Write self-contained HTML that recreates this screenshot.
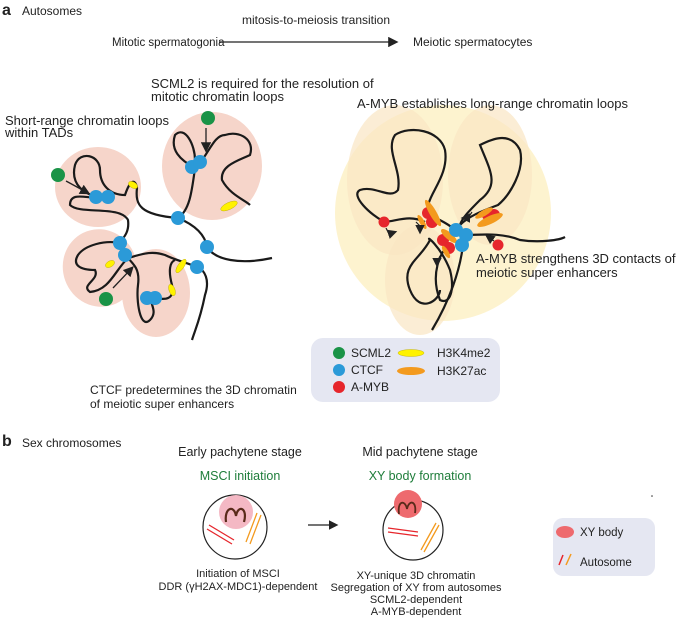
<!DOCTYPE html>
<html><head><meta charset="utf-8"><style>
body{margin:0;background:#fff}
svg{display:block}
text{font-family:"Liberation Sans",Arial,sans-serif;fill:#222}
</style></head><body>
<svg width="681" height="621" viewBox="0 0 681 621" xmlns="http://www.w3.org/2000/svg">
<defs><marker id="ah" markerWidth="8" markerHeight="8" refX="6" refY="4" orient="auto"><path d="M0,0 L8,4 L0,8 z" fill="#222"/></marker></defs>
<!-- part a header -->
<text x="2" y="15" font-size="16" font-weight="bold">a</text>
<text x="22" y="15" font-size="12">Autosomes</text>
<text x="316" y="24" font-size="12" text-anchor="middle">mitosis-to-meiosis transition</text>
<text x="112" y="46" font-size="11.5">Mitotic spermatogonia</text>
<text x="413" y="46" font-size="12">Meiotic spermatocytes</text>
<line x1="219" y1="42" x2="396" y2="42" stroke="#222" stroke-width="1.3" marker-end="url(#ah)"/>

<!-- left diagram -->
<g fill="#f6d5ca">
<ellipse cx="98" cy="187" rx="43" ry="40"/>
<ellipse cx="212" cy="166" rx="50" ry="54"/>
<ellipse cx="100" cy="268" rx="37" ry="39" transform="rotate(-20 100 268)"/>
<ellipse cx="156" cy="293" rx="34" ry="44"/>
</g>
<g fill="none" stroke="#1a1a1a" stroke-width="2.2">
<path d="M100,197 C85,195 70,185 75,165 C80,150 100,155 100,170 C100,185 110,195 125,195 C130,180 135,178 137,188 C135,205 140,215 178,218 C190,210 192,190 195,168 C180,160 170,150 175,135 C185,125 195,145 195,160"/>
<path d="M200,163 C210,150 215,135 225,135 C240,130 255,140 250,155 C240,160 220,165 222,180 C230,195 245,200 250,205 M178,218 C195,225 205,235 207,247 C215,260 240,265 272,258"/>
<path d="M100,197 C90,200 70,190 70,205 C80,215 120,205 128,220 C130,235 120,240 120,243"/>
<path d="M120,243 C105,240 85,245 78,255 C72,265 80,270 95,270 C100,280 80,285 90,292 C110,290 115,270 128,258 C140,255 150,250 165,255 C175,260 185,262 197,267 C205,270 210,280 205,295 C200,320 195,330 192,340"/>
<path d="M125,255 C135,265 140,270 138,285 C136,300 140,330 150,320 C160,310 145,300 155,298 C165,300 175,300 172,285 C168,270 170,262 175,260"/>
</g>
<g fill="#fff200" stroke="#b8a600" stroke-width="0.4">
<ellipse cx="133" cy="185" rx="5" ry="3" transform="rotate(30 133 185)"/>
<ellipse cx="229" cy="206" rx="9" ry="3.5" transform="rotate(-25 229 206)"/>
<ellipse cx="110" cy="264" rx="5" ry="3" transform="rotate(-30 110 264)"/>
<ellipse cx="181" cy="266" rx="8" ry="3" transform="rotate(-55 181 266)"/>
<ellipse cx="172" cy="290" rx="6" ry="3" transform="rotate(70 172 290)"/>
</g>
<g fill="#2b9ad8">
<circle cx="96" cy="197" r="7"/><circle cx="108" cy="197" r="7"/>
<circle cx="192" cy="167" r="7"/><circle cx="200" cy="162" r="7"/>
<circle cx="178" cy="218" r="7"/><circle cx="207" cy="247" r="7"/><circle cx="197" cy="267" r="7"/>
<circle cx="120" cy="243" r="7"/><circle cx="125" cy="255" r="7"/>
<circle cx="147" cy="298" r="7"/><circle cx="155" cy="298" r="7"/>
</g>
<g fill="#1a9347"><circle cx="58" cy="175" r="7"/><circle cx="208" cy="118" r="7"/><circle cx="106" cy="299" r="7"/></g>
<g stroke="#222" stroke-width="1.3" marker-end="url(#ah)">
<line x1="66" y1="181" x2="88" y2="193"/><line x1="206" y1="128" x2="206" y2="150"/><line x1="113" y1="288" x2="132" y2="268"/>
</g>
<text font-size="13"><tspan x="5" y="125">Short-range chromatin loops</tspan><tspan x="5" y="137">within TADs</tspan></text>
<text font-size="13"><tspan x="151" y="88">SCML2 is required for the resolution of</tspan><tspan x="151" y="101">mitotic chromatin loops</tspan></text>
<text font-size="12"><tspan x="90" y="394">CTCF predetermines the 3D chromatin</tspan><tspan x="90" y="408">of meiotic super enhancers</tspan></text>

<!-- right diagram -->
<circle cx="443" cy="213" r="108" fill="#fdf3cf"/>
<ellipse cx="395" cy="180" rx="48" ry="75" fill="#f9e6c3" opacity="0.7"/>
<ellipse cx="490" cy="175" rx="42" ry="70" fill="#f9e6c3" opacity="0.7"/>
<ellipse cx="420" cy="280" rx="35" ry="55" fill="#f9e6c3" opacity="0.7"/>
<g fill="none" stroke="#1a1a1a" stroke-width="2.2">
<path d="M385,222 C370,215 350,195 360,190 C375,185 390,200 398,190 C402,170 385,150 395,135 C410,125 440,130 445,150 C450,180 420,200 430,215 C440,220 450,225 455,230"/>
<path d="M385,222 C400,220 410,215 425,222"/>
<path d="M460,225 C470,215 485,210 498,205 C510,195 525,170 520,150 C510,130 490,140 480,145 C490,170 500,185 480,200 C470,210 462,218 460,225"/>
<path d="M465,235 C480,235 500,232 520,240 C540,243 560,240 565,237"/>
<path d="M450,245 C440,250 430,275 440,300 C450,305 455,290 450,270 C440,245 425,235 430,240 C420,260 400,265 410,290 C420,315 440,300 440,290"/>
<path d="M463,245 C460,270 450,300 432,330"/>
</g>
<g fill="#e6262c">
<circle cx="384" cy="222" r="5.5"/><circle cx="428" cy="213" r="6"/><circle cx="432" cy="222" r="6"/>
<circle cx="443" cy="240" r="6"/><circle cx="449" cy="248" r="6"/><circle cx="488" cy="215" r="6"/><circle cx="494" cy="215" r="6"/>
<circle cx="498" cy="245" r="5.5"/>
</g>
<g fill="#f39a1e">
<ellipse cx="433" cy="213" rx="15" ry="3.5" transform="rotate(60 433 213)"/>
<ellipse cx="422" cy="222" rx="8" ry="2.5" transform="rotate(60 422 222)"/>
<ellipse cx="449" cy="236" rx="10" ry="3.5" transform="rotate(40 449 236)"/>
<ellipse cx="484" cy="213" rx="10" ry="3" transform="rotate(-30 484 213)"/>
<ellipse cx="490" cy="220" rx="14" ry="4" transform="rotate(-25 490 220)"/>
<ellipse cx="446" cy="252" rx="7" ry="2.5" transform="rotate(60 446 252)"/>
</g>
<g fill="#2b9ad8"><circle cx="456" cy="230" r="7"/><circle cx="466" cy="235" r="7"/><circle cx="462" cy="245" r="7"/></g>
<g stroke="#222" stroke-width="1.2" fill="none" marker-end="url(#ah)">
<path d="M386,228 L389,234 L395,232"/><path d="M416,222 L420,226 L420,232"/>
<path d="M472,212 L468,218 L463,218"/><path d="M440,256 L437,262 L437,265"/><path d="M494,241 L487,236"/>
</g>
<text font-size="13"><tspan x="357" y="108">A-MYB establishes long-range chromatin loops</tspan></text>
<text font-size="13"><tspan x="476" y="263">A-MYB strengthens 3D contacts of</tspan><tspan x="476" y="277">meiotic super enhancers</tspan></text>
<!-- legend a -->
<rect x="311" y="338" width="189" height="64" rx="12" fill="#e5e7f2"/>
<circle cx="339" cy="353" r="6" fill="#1a9347"/><text x="351" y="357" font-size="12">SCML2</text>
<circle cx="339" cy="370" r="6" fill="#2b9ad8"/><text x="351" y="374" font-size="12">CTCF</text>
<circle cx="339" cy="387" r="6" fill="#e6262c"/><text x="351" y="391" font-size="12">A-MYB</text>
<ellipse cx="411" cy="353" rx="13" ry="3.5" fill="#fff200" stroke="#b8a600" stroke-width="0.4"/><text x="437" y="357" font-size="12" fill="#555">H3K4me2</text>
<ellipse cx="411" cy="371" rx="14" ry="4" fill="#f39a1e"/><text x="437" y="375" font-size="12" fill="#555">H3K27ac</text>

<!-- part b -->
<text x="2" y="446" font-size="16" font-weight="bold">b</text>
<text x="22" y="447" font-size="12">Sex chromosomes</text>
<text x="240" y="456" font-size="12.5" text-anchor="middle">Early pachytene stage</text>
<text x="240" y="480" font-size="12.5" text-anchor="middle" style="fill:#1e7d3a">MSCI initiation</text>
<text x="420" y="456" font-size="12.5" text-anchor="middle">Mid pachytene stage</text>
<text x="420" y="480" font-size="12.5" text-anchor="middle" style="fill:#1e7d3a">XY body formation</text>
<circle cx="235" cy="527" r="32" fill="#fff" stroke="#222" stroke-width="1.2"/>
<circle cx="236" cy="512" r="17" fill="#f4b8c4"/>
<path d="M226,522 C224,508 234,504 236,516 C238,504 248,508 244,522" fill="none" stroke="#5a2a1a" stroke-width="2.2"/>
<path d="M209,525 L234,540 M207,529 L232,544" stroke="#e6262c" stroke-width="1.3"/>
<path d="M257,513 L246,542 M261,515 L250,544" stroke="#f39a1e" stroke-width="1.3"/>
<line x1="308" y1="525" x2="336" y2="525" stroke="#222" stroke-width="1.2" marker-end="url(#ah)"/>
<circle cx="413" cy="530" r="30" fill="#fff" stroke="#222" stroke-width="1.2"/>
<circle cx="408" cy="504" r="14" fill="#ee6a6e"/>
<path d="M399,514 C397,501 405,499 407,509 C409,499 417,501 415,513" fill="none" stroke="#5a2a1a" stroke-width="1.8"/>
<path d="M388,528 L418,532 M388,532 L418,536" stroke="#e6262c" stroke-width="1.3"/>
<path d="M436,523 L421,550 M439,525 L424,552" stroke="#f39a1e" stroke-width="1.3"/>
<text font-size="11" text-anchor="middle"><tspan x="238" y="577">Initiation of MSCI</tspan><tspan x="238" y="590">DDR (γH2AX-MDC1)-dependent</tspan></text>
<text font-size="11" text-anchor="middle"><tspan x="416" y="579">XY-unique 3D chromatin</tspan><tspan x="416" y="591">Segregation of XY from autosomes</tspan><tspan x="416" y="603">SCML2-dependent</tspan><tspan x="416" y="615">A-MYB-dependent</tspan></text>
<rect x="553" y="518" width="102" height="58" rx="10" fill="#e5e7f2"/>
<ellipse cx="565" cy="532" rx="9" ry="6" fill="#ee6a6e"/><text x="580" y="536" font-size="11.5">XY body</text>
<path d="M563,555 L559,565" stroke="#e6262c" stroke-width="1.5"/>
<path d="M571,554 L566,565" stroke="#f39a1e" stroke-width="1.5"/>
<text x="580" y="566" font-size="11.5">Autosome</text>
<circle cx="652" cy="496" r="0.8" fill="#333"/>
</svg>
</body></html>
